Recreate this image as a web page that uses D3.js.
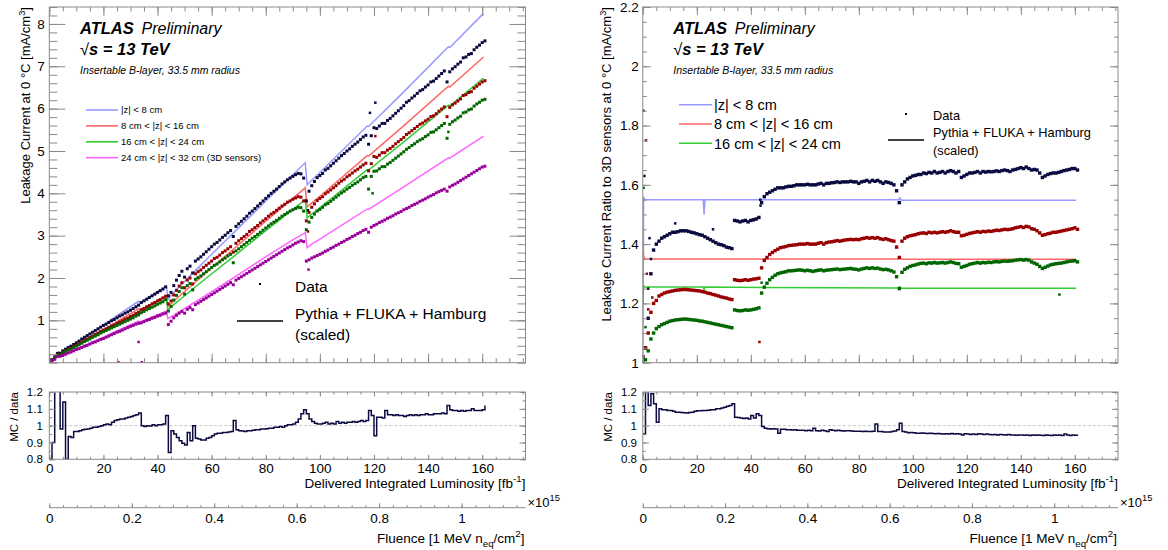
<!DOCTYPE html>
<html>
<head>
<meta charset="utf-8">
<script src="https://cdn.jsdelivr.net/npm/d3@7/dist/d3.min.js"></script>
<style>
  body { margin: 0; background: #ffffff; }
</style>
</head>
<body>
<div id="chart"></div>
<script>
// Luminosity grid of the measured points, one point per fb^-1
var lumi = d3.range(0, 162);

// ---------- left: leakage current [mA/cm3], data ----------
var dataZ8Left = [
  0.05, 0.07, 0.14, 0.22, 0.22, 0.28, 0.32, 0.36, 0.39, 0.43,
  0.47, 0.51, 0.56, 0.60, 0.64, 0.68, 0.72, 0.76, 0.80, 0.84,
  0.88, 0.91, 0.95, 0.99, 1.02, 1.06, 1.10, 1.13, 1.17, 1.20,
  1.24, 1.28, 1.32, 1.36, 1.42, 1.46, 1.50, 1.54, 1.58, 1.62,
  1.66, 1.70, 1.74, 1.79, 1.58, 1.66, 1.82, 1.95, 2.06, 2.16,
  2.02, 2.22, 2.28, 2.12, 2.40, 2.45, 2.50, 2.56, 2.62, 2.68,
  2.74, 2.80, 2.84, 2.90, 2.96, 3.01, 3.07, 3.12, 2.98, 3.22,
  3.28, 3.34, 3.40, 3.46, 3.53, 3.58, 3.64, 3.70, 3.76, 3.82,
  3.88, 3.94, 4.00, 4.05, 4.10, 4.16, 4.22, 4.27, 4.32, 4.36,
  4.40, 4.44, 4.47, 4.46, 4.36, 3.82, 4.05, 4.18, 4.28, 4.37,
  4.42, 4.47, 4.55, 4.59, 4.65, 4.71, 4.77, 4.83, 4.89, 4.94,
  5.00, 5.05, 5.11, 5.16, 5.21, 5.27, 5.33, 5.37, 5.16, 5.36,
  5.55, 5.53, 5.59, 5.65, 5.65, 5.72, 5.77, 5.83, 5.89, 5.95,
  6.01, 6.07, 6.15, 6.19, 6.25, 6.30, 6.36, 6.42, 6.45, 6.51,
  6.56, 6.63, 6.65, 6.71, 6.77, 6.83, 6.89, 6.63, 6.87, 6.94,
  6.99, 7.05, 7.10, 7.20, 7.22, 7.28, 7.30, 7.39, 7.45, 7.50,
  7.56, 7.60];
var dataZ16Left = [
  0.05, 0.06, 0.12, 0.19, 0.19, 0.25, 0.28, 0.32, 0.34, 0.38,
  0.41, 0.45, 0.49, 0.53, 0.56, 0.60, 0.63, 0.67, 0.70, 0.74,
  0.77, 0.80, 0.83, 0.87, 0.89, 0.93, 0.96, 0.99, 1.03, 1.05,
  1.09, 1.12, 1.16, 1.19, 1.25, 1.28, 1.32, 1.35, 1.39, 1.42,
  1.46, 1.49, 1.53, 1.57, 1.39, 1.46, 1.60, 1.71, 1.81, 1.89,
  1.77, 1.95, 2.00, 1.86, 2.10, 2.15, 2.19, 2.25, 2.30, 2.35,
  2.40, 2.46, 2.49, 2.54, 2.60, 2.64, 2.69, 2.74, 2.61, 2.82,
  2.88, 2.93, 2.98, 3.03, 3.10, 3.14, 3.19, 3.24, 3.30, 3.35,
  3.40, 3.46, 3.51, 3.55, 3.60, 3.65, 3.70, 3.74, 3.79, 3.82,
  3.86, 3.89, 3.92, 3.91, 3.82, 3.35, 3.55, 3.67, 3.75, 3.83,
  3.88, 3.92, 3.99, 4.03, 4.08, 4.13, 4.18, 4.24, 4.29, 4.33,
  4.39, 4.43, 4.48, 4.53, 4.57, 4.62, 4.67, 4.71, 4.53, 4.70,
  4.87, 4.85, 4.90, 4.96, 4.96, 5.02, 5.06, 5.11, 5.17, 5.22,
  5.27, 5.32, 5.39, 5.43, 5.48, 5.53, 5.58, 5.63, 5.66, 5.71,
  5.75, 5.81, 5.83, 5.88, 5.94, 5.99, 6.04, 5.81, 6.03, 6.09,
  6.13, 6.18, 6.23, 6.31, 6.33, 6.38, 6.40, 6.48, 6.53, 6.58,
  6.63, 6.66];
var dataZ24Left = [
  0.04, 0.06, 0.12, 0.18, 0.18, 0.23, 0.27, 0.30, 0.32, 0.36,
  0.39, 0.42, 0.46, 0.50, 0.53, 0.56, 0.60, 0.63, 0.66, 0.70,
  0.73, 0.76, 0.79, 0.82, 0.85, 0.88, 0.91, 0.94, 0.97, 1.00,
  1.03, 1.06, 1.10, 1.13, 1.18, 1.21, 1.25, 1.28, 1.31, 1.34,
  1.38, 1.41, 1.44, 1.49, 1.22, 1.33, 1.48, 1.59, 1.68, 1.77,
  1.62, 1.82, 1.87, 1.72, 1.97, 2.01, 2.05, 2.10, 2.15, 2.20,
  2.25, 2.30, 2.33, 2.38, 2.43, 2.47, 2.52, 2.56, 2.36, 2.64,
  2.69, 2.74, 2.79, 2.84, 2.89, 2.94, 2.98, 3.03, 3.08, 3.13,
  3.18, 3.23, 3.28, 3.32, 3.36, 3.41, 3.46, 3.50, 3.54, 3.58,
  3.61, 3.64, 3.67, 3.66, 3.58, 3.14, 3.32, 3.43, 3.51, 3.58,
  3.62, 3.67, 3.73, 3.76, 3.81, 3.86, 3.91, 3.96, 4.01, 4.05,
  4.10, 4.14, 4.19, 4.23, 4.27, 4.32, 4.37, 4.40, 4.10, 4.40,
  4.52, 4.53, 4.58, 4.63, 4.63, 4.69, 4.73, 4.78, 4.83, 4.88,
  4.93, 4.98, 5.04, 5.08, 5.13, 5.17, 5.22, 5.26, 5.29, 5.34,
  5.38, 5.44, 5.45, 5.50, 5.55, 5.60, 5.65, 5.30, 5.63, 5.69,
  5.73, 5.78, 5.82, 5.90, 5.92, 5.97, 5.99, 6.06, 6.11, 6.15,
  6.20, 6.22];
var dataZ32Left = [
  0.04, 0.05, 0.08, 0.15, 0.15, 0.17, 0.20, 0.23, 0.25, 0.28,
  0.31, 0.33, 0.36, 0.39, 0.41, 0.44, 0.47, 0.49, 0.52, 0.55,
  0.57, 0.60, 0.63, 0.66, 0.69, 0.72, 0.74, 0.77, 0.80, 0.83,
  0.86, 0.88, 0.91, 0.93, 0.94, 0.97, 1.00, 1.02, 1.05, 1.07,
  1.10, 1.12, 1.15, 1.17, 0.90, 0.98, 1.06, 1.12, 1.17, 1.21,
  1.17, 1.26, 1.30, 1.25, 1.37, 1.41, 1.45, 1.49, 1.53, 1.57,
  1.61, 1.65, 1.69, 1.73, 1.77, 1.81, 1.85, 1.89, 1.84, 1.95,
  1.99, 2.03, 2.07, 2.11, 2.15, 2.19, 2.23, 2.27, 2.31, 2.35,
  2.39, 2.43, 2.47, 2.51, 2.55, 2.59, 2.63, 2.67, 2.71, 2.74,
  2.78, 2.82, 2.85, 2.88, 2.86, 2.40, 2.43, 2.47, 2.50, 2.53,
  2.56, 2.59, 2.63, 2.66, 2.70, 2.73, 2.77, 2.80, 2.84, 2.87,
  2.91, 2.94, 2.98, 3.01, 3.05, 3.08, 3.12, 3.15, 3.08, 3.20,
  3.24, 3.27, 3.31, 3.34, 3.37, 3.41, 3.44, 3.47, 3.51, 3.54,
  3.57, 3.61, 3.64, 3.67, 3.71, 3.74, 3.77, 3.81, 3.84, 3.87,
  3.91, 3.94, 3.97, 4.01, 4.04, 4.07, 4.10, 4.05, 4.15, 4.19,
  4.22, 4.26, 4.30, 4.34, 4.38, 4.42, 4.46, 4.50, 4.54, 4.58,
  4.62, 4.64];

// stray measured points (lumi, value, series index)
var outlierLumiLeft   = [25.5, 33, 34.2, 0.5, 120.5, 118.5, 95.6, 95.6, 95.8, 119.5, 147.5, 120.5];
var outlierValueLeft  = [0.01, 0.49, 0.01, 0.0, 6.14, 5.90, 3.60, 3.10, 2.20, 4.00, 5.45, 5.35];
var outlierSeriesLeft = [3, 3, 3, 3, 0, 0, 0, 1, 3, 2, 2, 1];

// ---------- left: Pythia + FLUKA + Hamburg (scaled) ----------
var mcLumiLeft = [0, 2, 3.5, 4.5, 5, 10, 20, 25, 33, 33.6, 43.3, 43.8, 46, 50, 55, 60, 68, 80, 90, 94.6, 95.3, 97, 100, 117.5, 118, 130, 147.5, 148, 160.5];
var mcZ8Left  = [0.05, 0.12, 0.26, 0.22, 0.26, 0.47, 0.89, 1.11, 1.45, 1.42, 1.81, 1.50, 1.66, 1.92, 2.24, 2.56, 3.06, 3.82, 4.44, 4.72, 4.20, 4.31, 4.49, 5.59, 5.58, 6.33, 7.46, 7.44, 8.25];
var mcZ16Left = [0.05, 0.11, 0.23, 0.20, 0.23, 0.41, 0.78, 0.97, 1.27, 1.24, 1.58, 1.32, 1.45, 1.68, 1.96, 2.24, 2.68, 3.34, 3.88, 4.13, 3.68, 3.77, 3.93, 4.89, 4.88, 5.54, 6.53, 6.51, 7.22];
var mcZ24Left = [0.05, 0.10, 0.22, 0.19, 0.22, 0.39, 0.74, 0.92, 1.20, 1.17, 1.50, 1.25, 1.37, 1.58, 1.84, 2.10, 2.50, 3.12, 3.62, 3.85, 3.42, 3.51, 3.66, 4.56, 4.55, 5.16, 6.08, 6.06, 6.72];
var mcZ32Left = [0.04, 0.08, 0.18, 0.16, 0.18, 0.32, 0.60, 0.75, 0.98, 0.96, 1.22, 1.04, 1.12, 1.28, 1.48, 1.68, 2.00, 2.50, 2.90, 3.07, 2.72, 2.80, 2.92, 3.63, 3.62, 4.11, 4.84, 4.83, 5.35];

// ---------- left: MC / data ----------
var ratioLeft = [
  0.80, 0.90, 1.25, 1.25, 0.98, 1.14, 0.80, 0.935, 0.93, 0.965,
  0.965, 0.97, 0.975, 0.978, 0.98, 0.985, 0.99, 0.99, 0.995, 1.00,
  1.005, 1.01, 1.005, 1.02, 1.03, 1.035, 1.04, 1.04, 1.045, 1.05,
  1.055, 1.06, 1.065, 1.075, 1.00, 0.995, 1.00, 0.998, 1.005, 1.00,
  1.005, 1.005, 1.01, 1.06, 0.84, 0.97, 0.95, 0.93, 0.91, 0.895,
  0.885, 0.96, 0.91, 1.00, 0.925, 0.92, 0.915, 0.915, 0.925, 0.93,
  0.94, 0.95, 0.955, 0.955, 0.96, 0.96, 0.962, 0.965, 1.03, 0.975,
  0.97, 0.968, 0.965, 0.97, 0.97, 0.972, 0.975, 0.975, 0.98, 0.98,
  0.982, 0.985, 0.985, 0.99, 0.99, 0.995, 0.99, 1.00, 1.005, 1.005,
  1.01, 1.02, 1.04, 1.07, 1.095, 1.07, 1.04, 1.025, 1.015, 1.01,
  1.01, 1.015, 1.02, 1.01, 1.015, 1.01, 1.025, 1.015, 1.02, 1.015,
  1.02, 1.02, 1.025, 1.02, 1.025, 1.03, 1.025, 1.03, 1.09, 1.06,
  0.94, 1.05, 1.05, 1.045, 1.09, 1.065, 1.065, 1.06, 1.065, 1.06,
  1.06, 1.055, 1.06, 1.065, 1.06, 1.065, 1.06, 1.065, 1.065, 1.07,
  1.065, 1.065, 1.07, 1.07, 1.07, 1.075, 1.07, 1.12, 1.095, 1.09,
  1.09, 1.085, 1.09, 1.085, 1.09, 1.09, 1.10, 1.09, 1.09, 1.09,
  1.095, 1.12];

// ---------- right: ratio to 3D sensors, data ----------
var dataZ8Right = [
  1.02, 1.05, 1.15, 1.30, 1.38, 1.40, 1.41, 1.42, 1.425, 1.43,
  1.435, 1.44, 1.44, 1.442, 1.445, 1.445, 1.445, 1.443, 1.44, 1.438,
  1.435, 1.432, 1.43, 1.425, 1.42, 1.415, 1.41, 1.405, 1.40, 1.398,
  1.395, 1.39, 1.388, 1.385, 1.48, 1.478, 1.475, 1.478, 1.48, 1.475,
  1.48, 1.482, 1.485, 1.49, 1.54, 1.56, 1.57, 1.575, 1.58, 1.585,
  1.59, 1.59, 1.59, 1.593, 1.595, 1.595, 1.597, 1.60, 1.60, 1.60,
  1.60, 1.602, 1.60, 1.60, 1.60, 1.603, 1.605, 1.60, 1.605, 1.605,
  1.607, 1.608, 1.61, 1.608, 1.61, 1.61, 1.61, 1.612, 1.61, 1.61,
  1.605, 1.61, 1.612, 1.615, 1.61, 1.615, 1.612, 1.615, 1.61, 1.605,
  1.61, 1.608, 1.605, 1.60, 1.58, 1.54, 1.60, 1.61, 1.62, 1.625,
  1.63, 1.632, 1.635, 1.635, 1.64, 1.638, 1.642, 1.64, 1.645, 1.64,
  1.642, 1.645, 1.64, 1.645, 1.648, 1.645, 1.64, 1.645, 1.625, 1.63,
  1.635, 1.64, 1.64, 1.642, 1.645, 1.64, 1.645, 1.643, 1.645, 1.644,
  1.645, 1.647, 1.645, 1.648, 1.65, 1.648, 1.645, 1.65, 1.652, 1.655,
  1.658, 1.655, 1.66, 1.655, 1.65, 1.652, 1.65, 1.64, 1.625, 1.63,
  1.635, 1.638, 1.64, 1.64, 1.642, 1.645, 1.648, 1.65, 1.652, 1.655,
  1.655, 1.65];
var dataZ16Right = [
  1.02, 1.05, 1.10, 1.17, 1.20, 1.21, 1.225, 1.23, 1.235, 1.238,
  1.24, 1.242, 1.244, 1.245, 1.246, 1.247, 1.247, 1.246, 1.245, 1.244,
  1.243, 1.242, 1.24, 1.238, 1.235, 1.233, 1.23, 1.228, 1.225, 1.222,
  1.22, 1.218, 1.215, 1.213, 1.28, 1.278, 1.277, 1.278, 1.28, 1.278,
  1.28, 1.282, 1.283, 1.285, 1.32, 1.345, 1.355, 1.365, 1.372, 1.378,
  1.383, 1.388, 1.39, 1.392, 1.395, 1.396, 1.397, 1.398, 1.40, 1.40,
  1.40, 1.402, 1.40, 1.40, 1.40, 1.403, 1.405, 1.40, 1.405, 1.407,
  1.408, 1.41, 1.412, 1.41, 1.412, 1.414, 1.415, 1.416, 1.415, 1.416,
  1.415, 1.418, 1.42, 1.422, 1.42, 1.422, 1.42, 1.422, 1.418, 1.416,
  1.418, 1.415, 1.412, 1.41, 1.39, 1.355, 1.41, 1.42, 1.425, 1.428,
  1.43, 1.432, 1.435, 1.437, 1.438, 1.436, 1.44, 1.438, 1.44, 1.438,
  1.44, 1.442, 1.44, 1.442, 1.445, 1.442, 1.44, 1.44, 1.428, 1.43,
  1.433, 1.436, 1.438, 1.44, 1.442, 1.44, 1.443, 1.442, 1.444, 1.443,
  1.445, 1.447, 1.446, 1.448, 1.45, 1.449, 1.45, 1.452, 1.455, 1.457,
  1.459, 1.456, 1.46, 1.458, 1.452, 1.45, 1.445, 1.438, 1.43, 1.432,
  1.435, 1.437, 1.44, 1.44, 1.442, 1.444, 1.446, 1.448, 1.45, 1.452,
  1.455, 1.45];
var dataZ24Right = [
  1.00, 1.01, 1.04, 1.08, 1.10, 1.115, 1.122, 1.128, 1.132, 1.136,
  1.14, 1.142, 1.144, 1.145, 1.146, 1.147, 1.147, 1.146, 1.145, 1.144,
  1.143, 1.141, 1.14, 1.138, 1.136, 1.134, 1.132, 1.13, 1.128, 1.126,
  1.124, 1.122, 1.12, 1.118, 1.178, 1.176, 1.175, 1.176, 1.178, 1.177,
  1.178, 1.18, 1.182, 1.185, 1.235, 1.255, 1.268, 1.28, 1.288, 1.295,
  1.30, 1.303, 1.305, 1.307, 1.31, 1.31, 1.311, 1.312, 1.313, 1.312,
  1.31, 1.312, 1.31, 1.308, 1.31, 1.312, 1.313, 1.31, 1.312, 1.313,
  1.314, 1.315, 1.316, 1.314, 1.315, 1.316, 1.317, 1.318, 1.316, 1.315,
  1.313, 1.316, 1.318, 1.32, 1.318, 1.32, 1.318, 1.319, 1.316, 1.314,
  1.315, 1.313, 1.31, 1.306, 1.29, 1.25, 1.305, 1.315, 1.32, 1.325,
  1.328, 1.33, 1.333, 1.335, 1.336, 1.334, 1.337, 1.336, 1.338, 1.336,
  1.337, 1.338, 1.336, 1.338, 1.34, 1.338, 1.335, 1.334, 1.322, 1.325,
  1.328, 1.332, 1.334, 1.336, 1.338, 1.336, 1.338, 1.337, 1.339, 1.338,
  1.34, 1.341, 1.34, 1.342, 1.343, 1.342, 1.343, 1.344, 1.346, 1.347,
  1.348, 1.346, 1.348, 1.346, 1.34, 1.336, 1.332, 1.325, 1.318, 1.322,
  1.326, 1.33, 1.332, 1.334, 1.335, 1.336, 1.338, 1.34, 1.342, 1.343,
  1.344, 1.34];

var outlierLumiRight   = [0.2, 0.6, 1.2, 0.3, 43.2, 43.6, 154.3, 2, 3, 1.5, 43.5, 44, 12, 26, 2.5, 3.5, 1, 2];
var outlierValueRight  = [1.85, 1.63, 1.75, 1.59, 1.07, 1.53, 1.23, 1.25, 1.35, 1.30, 1.55, 1.27, 1.47, 1.45, 1.42, 1.22, 1.12, 1.18];
var outlierSeriesRight = [0, 0, 1, 2, 1, 0, 2, 0, 0, 1, 0, 2, 0, 0, 0, 1, 2, 1];

// ---------- right: Pythia + FLUKA + Hamburg (scaled) ----------
var mcLumiRight = [0, 0.3, 0.7, 22.4, 22.7, 23.0, 94.8, 95.2, 95.8, 160.5];
var mcZ8Right  = [1.00, 1.56, 1.55, 1.55, 1.50, 1.55, 1.55, 1.556, 1.548, 1.548];
var mcZ16Right = [1.42, 1.36, 1.35, 1.35, 1.35, 1.35, 1.35, 1.355, 1.349, 1.349];
var mcZ24Right = [1.20, 1.26, 1.255, 1.255, 1.245, 1.255, 1.252, 1.256, 1.251, 1.251];

// ---------- right: MC / data ----------
var ratioRight = [
  0.95, 1.20, 1.12, 1.19, 1.13, 1.02, 1.10, 1.095, 1.095, 1.09,
  1.09, 1.085, 1.08, 1.08, 1.078, 1.076, 1.075, 1.078, 1.08, 1.085,
  1.088, 1.088, 1.09, 1.09, 1.092, 1.095, 1.095, 1.10, 1.10, 1.105,
  1.11, 1.115, 1.12, 1.13, 1.05, 1.048, 1.045, 1.042, 1.045, 1.04,
  1.06, 1.045, 1.07, 1.06, 0.995, 0.985, 0.982, 0.98, 0.982, 0.98,
  0.955, 0.978, 0.978, 0.975, 0.976, 0.974, 0.975, 0.973, 0.972, 0.972,
  0.97, 0.972, 0.97, 0.985, 0.97, 0.968, 0.972, 0.97, 0.965, 0.975,
  0.972, 0.97, 0.972, 0.97, 0.968, 0.97, 0.97, 0.968, 0.966, 0.966,
  0.966, 0.965, 0.966, 0.965, 0.965, 0.966, 1.01, 0.965, 0.965, 0.962,
  0.962, 0.963, 0.965, 0.968, 0.975, 1.015, 0.965, 0.962, 0.958, 0.96,
  0.958, 0.955, 0.955, 0.957, 0.955, 0.953, 0.955, 0.954, 0.952, 0.954,
  0.952, 0.95, 0.952, 0.95, 0.953, 0.95, 0.952, 0.95, 0.945, 0.952,
  0.95, 0.948, 0.95, 0.948, 0.952, 0.95, 0.948, 0.95, 0.948, 0.946,
  0.948, 0.945, 0.947, 0.946, 0.945, 0.947, 0.944, 0.945, 0.943, 0.945,
  0.944, 0.943, 0.945, 0.942, 0.944, 0.943, 0.945, 0.943, 0.942, 0.944,
  0.943, 0.942, 0.944, 0.943, 0.945, 0.942, 0.95, 0.944, 0.942, 0.944,
  0.943, 0.94];

// Tick labels
var leftYTicks = [1, 2, 3, 4, 5, 6, 7, 8];
var rightYTicks = [1, 1.2, 1.4, 1.6, 1.8, 2, 2.2];
var ratioTicks = [0.8, 0.9, 1, 1.1, 1.2];
var lumiTicks = [0, 20, 40, 60, 80, 100, 120, 140, 160];
var fluenceTicks = [0, 0.2, 0.4, 0.6, 0.8, 1];

var legendKeysLeft = ["|z| < 8 cm", "8 cm < |z| < 16 cm", "16 cm < |z| < 24 cm", "24 cm < |z| < 32 cm (3D sensors)"];
var legendKeysRight = ["|z| < 8 cm", "8 cm < |z| < 16 cm", "16 cm < |z| < 24 cm"];

// Some global parameters
var width = 1168;
var height = 550;
var mainTop = 7, mainBottom = 362.7;
var ratioTop = 392, ratioBottom = 459.3;
var fluenceY = 507.7;
var lumiMax = 176, fluenceMax = 1.155;
var frameColor = "#8a8a8a";
var font = "'Liberation Sans', Arial, Helvetica, sans-serif";
var dataColors = ["#0a0a40", "#990000", "#006600", "#990099"];
var mcColors = ["#9999ff", "#ff6666", "#33cc33", "#ff66ff"];

const svg = d3.select("#chart")
              .append("svg")
              .attr("width", width)
              .attr("height", height)
              .style("font-family", font);

// text with super/subscripts, parts = [[string, "sup"|"sub"|undefined], ...]
function richText(x, y, size, anchor, parts, rotate) {
  var t = svg.append("text").attr("x", x).attr("y", y)
             .attr("font-size", size).attr("text-anchor", anchor).attr("fill", "#000");
  if (rotate) t.attr("transform", "rotate(-90," + x + "," + y + ")");
  var level = 0;
  parts.forEach(function(p) {
    var target = p[1] == "sup" ? -0.42 * size : (p[1] == "sub" ? 0.32 * size : 0);
    var ts = t.append("tspan").attr("dy", target - level).text(p[0]);
    if (p[1]) ts.attr("font-size", size * 0.72);
    level = target;
  });
  return t;
}

// axis with inward ticks, grey tick lines and no domain line
function tickAxis(gen, scale, values, size, tx, ty, labelSize, pad) {
  var axis = gen(scale).tickValues(values).tickSize(-size).tickPadding(pad || 0)
                       .tickFormat(labelSize ? d3.format("~g") : "");
  var a = svg.append("g").attr("transform", "translate(" + tx + "," + ty + ")").call(axis);
  a.select(".domain").remove();
  a.selectAll("line").attr("stroke", frameColor);
  a.selectAll("text").attr("fill", "#000").attr("font-size", labelSize).attr("font-family", font);
  return a;
}

function minor(lo, hi, step) {
  return d3.range(lo, hi + step / 1000, step);
}

function drawPanel(p) {
  var x = d3.scaleLinear().domain([0, lumiMax]).range([p.x0, p.x1]);
  var xf = d3.scaleLinear().domain([0, fluenceMax]).range([p.x0, p.x1]);
  var y = d3.scaleLinear().domain(p.yDomain).range([mainBottom, mainTop]);
  var yr = d3.scaleLinear().domain([0.8, 1.2]).range([ratioBottom, ratioTop]);
  var dot = p.dot;

  var defs = svg.append("defs");
  defs.append("clipPath").attr("id", "main-" + p.id).append("rect")
      .attr("x", p.x0).attr("y", mainTop).attr("width", p.x1 - p.x0).attr("height", mainBottom - mainTop);
  defs.append("clipPath").attr("id", "ratio-" + p.id).append("rect")
      .attr("x", p.x0).attr("y", ratioTop).attr("width", p.x1 - p.x0).attr("height", ratioBottom - ratioTop);

  var main = svg.append("g").attr("clip-path", "url(#main-" + p.id + ")");

  // Draw the scaled simulation curves
  p.mc.forEach(function(vals, i) {
    main.append("path")
        .datum(vals)
        .attr("d", d3.line().x((d, j) => x(p.mcLumi[j])).y((d) => y(d)))
        .attr("fill", "none")
        .attr("stroke", mcColors[i])
        .attr("stroke-width", 1.5);
  });

  // Draw the measured points
  p.data.forEach(function(vals, i) {
    main.append("g").selectAll("rect").data(vals).enter().append("rect")
        .attr("x", (d, j) => x(lumi[j]) - dot / 2)
        .attr("y", (d) => y(d) - dot / 2)
        .attr("width", dot).attr("height", dot)
        .attr("fill", dataColors[i]);
  });
  main.append("g").selectAll("rect").data(p.outValue).enter().append("rect")
      .attr("x", (d, j) => x(p.outLumi[j]) - 1.25)
      .attr("y", (d) => y(d) - 1.25)
      .attr("width", 2.5).attr("height", 2.5)
      .attr("fill", (d, j) => dataColors[p.outSeries[j]]);

  // Frame and ticks of the upper pad
  svg.append("rect").attr("x", p.x0).attr("y", mainTop)
     .attr("width", p.x1 - p.x0).attr("height", mainBottom - mainTop)
     .attr("fill", "none").attr("stroke", frameColor);

  tickAxis(d3.axisLeft, y, p.yTicks, p.yLen[0], p.x0, 0, 13.5, p.yPad);
  tickAxis(d3.axisLeft, y, minor(p.yDomain[0], p.yDomain[1], p.yMinor), p.yLen[1], p.x0, 0);
  tickAxis(d3.axisRight, y, p.yTicks, p.yLen[0], p.x1, 0);
  tickAxis(d3.axisRight, y, minor(p.yDomain[0], p.yDomain[1], p.yMinor), p.yLen[1], p.x1, 0);
  tickAxis(d3.axisBottom, x, lumiTicks, p.xLen[0], 0, mainBottom);
  tickAxis(d3.axisBottom, x, minor(0, lumiMax, 5), p.xLen[1], 0, mainBottom);
  tickAxis(d3.axisTop, x, lumiTicks, p.xLen[0], 0, mainTop);
  tickAxis(d3.axisTop, x, minor(0, lumiMax, 5), p.xLen[1], 0, mainTop);

  // Lower pad: MC / data
  svg.append("line").attr("x1", p.x0).attr("x2", p.x1).attr("y1", yr(1)).attr("y2", yr(1))
     .attr("stroke", "#c8c8c8").attr("stroke-dasharray", "3,2");

  svg.append("path")
     .datum(p.ratio)
     .attr("clip-path", "url(#ratio-" + p.id + ")")
     .attr("d", d3.line().curve(d3.curveStepAfter).x((d, j) => x(lumi[j])).y((d) => yr(d)))
     .attr("fill", "none")
     .attr("stroke", dataColors[0])
     .attr("stroke-width", 1.5);

  svg.append("rect").attr("x", p.x0).attr("y", ratioTop)
     .attr("width", p.x1 - p.x0).attr("height", ratioBottom - ratioTop)
     .attr("fill", "none").attr("stroke", frameColor);

  tickAxis(d3.axisLeft, yr, ratioTicks, 6, p.x0, 0, 11.5, p.rPad);
  tickAxis(d3.axisLeft, yr, minor(0.8, 1.2, 0.05), 3, p.x0, 0);
  tickAxis(d3.axisRight, yr, ratioTicks, 6, p.x1, 0);
  tickAxis(d3.axisRight, yr, minor(0.8, 1.2, 0.05), 3, p.x1, 0);
  tickAxis(d3.axisBottom, x, lumiTicks, 4.5, 0, ratioBottom, 13.5, 4);
  tickAxis(d3.axisBottom, x, minor(0, lumiMax, 5), 2.5, 0, ratioBottom);
  tickAxis(d3.axisTop, x, lumiTicks, 4.5, 0, ratioTop);
  tickAxis(d3.axisTop, x, minor(0, lumiMax, 5), 2.5, 0, ratioTop);

  // Second x axis: fluence
  svg.append("line").attr("x1", p.x0).attr("x2", p.x1).attr("y1", fluenceY).attr("y2", fluenceY)
     .attr("stroke", frameColor);
  tickAxis(d3.axisBottom, xf, fluenceTicks, 4.5, 0, fluenceY, 13.5, 5.5);
  tickAxis(d3.axisBottom, xf, minor(0, fluenceMax, 0.2 / 6), 2.5, 0, fluenceY);

  // Axis titles
  richText(p.x1, 488, 13.5, "end", [["Delivered Integrated Luminosity [fb"], ["-1", "sup"], ["]"]]);
  richText(p.x1 - 1, 543, 13.5, "end", [["Fluence [1 MeV n"], ["eq", "sub"], ["/cm"], ["2", "sup"], ["]"]]);
  richText(p.x1 + 2, 506.5, 13, "start", [["\u00d710"], ["15", "sup"]]);
  richText(p.titleX, mainTop, 13, "end", [[p.title + "\u00b0C [mA/cm"], ["3", "sup"], ["]"]], true);
  richText(p.ratioTitleX, ratioTop, 11.5, "end", [["MC / data"]], true);

  // ATLAS label
  svg.append("text").attr("x", p.labelX).attr("y", 34.3).attr("font-size", 16.5)
     .attr("font-weight", "bold").attr("font-style", "italic").text("ATLAS");
  svg.append("text").attr("x", p.labelX + 61.5).attr("y", 34.3).attr("font-size", 16)
     .attr("font-style", "italic").text("Preliminary");
  var roots = svg.append("text").attr("x", p.labelX).attr("y", 55).attr("font-size", 16.5);
  roots.append("tspan").text("\u221a");
  roots.append("tspan").attr("font-weight", "bold").attr("font-style", "italic").text("s = 13 TeV");
  svg.append("text").attr("x", p.labelX).attr("y", 73.5).attr("font-size", 10.5)
     .attr("font-style", "italic").text("Insertable B-layer, 33.5 mm radius");

  // Legend of the z ranges
  var lg = p.legend;
  var legend = svg.selectAll(".legend-" + p.id).data(p.legendKeys).enter()
                  .append("g").attr("class", "legend-" + p.id)
                  .attr("transform", (d, i) => "translate(" + lg.x + "," + (lg.y + i * lg.dy) + ")");
  legend.append("line").attr("x1", 0).attr("x2", lg.len).attr("y1", 0).attr("y2", 0)
        .attr("stroke", (d, i) => mcColors[i]).attr("stroke-width", 1.6);
  legend.append("text").attr("x", lg.len + lg.gap).attr("y", lg.size * 0.36)
        .attr("font-size", lg.size).text((d) => d);

  // Legend of data vs simulation
  var l2 = p.legend2;
  svg.append("rect").attr("x", l2.dotX - 1).attr("y", l2.dotY - 1).attr("width", 2).attr("height", 2)
     .attr("fill", "#000");
  svg.append("line").attr("x1", l2.lineX0).attr("x2", l2.lineX1).attr("y1", l2.lineY).attr("y2", l2.lineY)
     .attr("stroke", "#000").attr("stroke-width", 1.6);
  svg.append("text").attr("x", l2.textX).attr("y", l2.rows[0]).attr("font-size", l2.size).text("Data");
  svg.append("text").attr("x", l2.textX).attr("y", l2.rows[1]).attr("font-size", l2.size).text("Pythia + FLUKA + Hamburg");
  svg.append("text").attr("x", l2.textX).attr("y", l2.rows[2]).attr("font-size", l2.size).text("(scaled)");
}

var panels = [
  {
    id: "left", x0: 49.3, x1: 525.5, yDomain: [0, 8.4], yTicks: leftYTicks, yMinor: 0.2,
    yLen: [16, 8], xLen: [9, 4.5], yPad: 4.5, rPad: 6.5, dot: 3,
    data: [dataZ8Left, dataZ16Left, dataZ24Left, dataZ32Left],
    mcLumi: mcLumiLeft, mc: [mcZ8Left, mcZ16Left, mcZ24Left, mcZ32Left],
    outLumi: outlierLumiLeft, outValue: outlierValueLeft, outSeries: outlierSeriesLeft,
    ratio: ratioLeft,
    title: "Leakage Current at 0 ", titleX: 30, ratioTitleX: 17.5, labelX: 80,
    legendKeys: legendKeysLeft,
    legend: {x: 86, y: 110, dy: 15.9, len: 32, gap: 3, size: 9.5},
    legend2: {dotX: 260, dotY: 284, lineX0: 237, lineX1: 283, lineY: 321, textX: 295,
              rows: [291.5, 318.5, 339.5], size: 15.5}
  },
  {
    id: "right", x0: 642.8, x1: 1118, yDomain: [1, 2.2], yTicks: rightYTicks, yMinor: 0.05,
    yLen: [8, 4], xLen: [8, 4], yPad: 4, rPad: 5.8, dot: 3.4,
    data: [dataZ8Right, dataZ16Right, dataZ24Right],
    mcLumi: mcLumiRight, mc: [mcZ8Right, mcZ16Right, mcZ24Right],
    outLumi: outlierLumiRight, outValue: outlierValueRight, outSeries: outlierSeriesRight,
    ratio: ratioRight,
    title: "Leakage Current Ratio to 3D sensors at 0 ", titleX: 611, ratioTitleX: 611.5, labelX: 673.3,
    legendKeys: legendKeysRight,
    legend: {x: 679, y: 104.7, dy: 19.3, len: 33, gap: 2, size: 14.5},
    legend2: {dotX: 906, dotY: 114, lineX0: 888, lineX1: 924, lineY: 140, textX: 933,
              rows: [119.5, 137, 155], size: 12.8}
  }
];

panels.forEach(drawPanel);
</script>
</body>
</html>
